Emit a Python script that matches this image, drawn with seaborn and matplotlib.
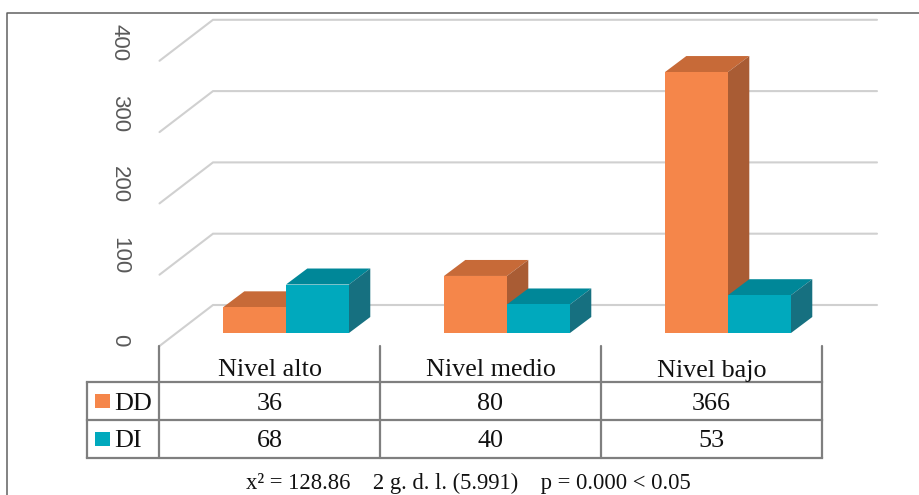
import matplotlib
matplotlib.use("Agg")
import matplotlib.pyplot as plt
from matplotlib.patches import Polygon, Rectangle
import pandas as pd
import seaborn as sns

categories = ["Nivel alto", "Nivel medio", "Nivel bajo"]
dd_values = [36, 80, 366]
di_values = [68, 40, 53]
series_names = ["DD", "DI"]
y_ticks = [0, 100, 200, 300, 400]
note = "x² = 128.86    2 g. d. l. (5.991)    p = 0.000 < 0.05"

front = {"DD": "#F5864A", "DI": "#00A9BD"}
top = {"DD": "#C76A38", "DI": "#008798"}
side = {"DD": "#A95C34", "DI": "#167080"}
GRID = "#D0D0D0"
TABLE = "#7F7F7F"
W, H = 920, 495

sns.set_theme(style="white")
plt.rcParams["font.family"] = ["Liberation Serif", "DejaVu Serif"]
fig = plt.figure(figsize=(W / 100, H / 100), dpi=100, facecolor="white")

# pixel geometry of the front plane of the bars
cat_w = 221.0
px_per_unit = 0.713
base_y = 333.0
left_px = 159.5 + 16
top_y = base_y - 400 * px_per_unit
ax = fig.add_axes([left_px / W, 1 - base_y / H, 3 * cat_w / W, (base_y - top_y) / H])

df = pd.DataFrame({
    "cat": categories * 2,
    "serie": ["DD"] * 3 + ["DI"] * 3,
    "valor": dd_values + di_values,
})
sns.barplot(data=df, x="cat", y="valor", hue="serie", order=categories,
            hue_order=series_names, palette=front, width=0.57, gap=0,
            saturation=1, legend=False, ax=ax, zorder=3, linewidth=0)
ax.set_xlim(-0.5, 2.5)
ax.set_ylim(0, 400)
ax.axis("off")

# depth of a bar, in data units
dx = 21.3 / cat_w
dy = 16.0 / px_per_unit
for name, cont in zip(series_names, ax.containers):
    z = 2 if name == "DD" else 2.5
    for b in cont:
        x0, x1, h = b.get_x(), b.get_x() + b.get_width(), b.get_height()
        ax.add_patch(Polygon([(x0, h), (x1, h), (x1 + dx, h + dy), (x0 + dx, h + dy)],
                             fc=top[name], ec="none", zorder=z, clip_on=False))
        ax.add_patch(Polygon([(x1, 0), (x1 + dx, dy), (x1 + dx, h + dy), (x1, h)],
                             fc=side[name], ec="none", zorder=z, clip_on=False))

# floor and wall grid lines
wall_x0 = -0.5 - 16 / cat_w
wall_x1 = wall_x0 + 53.5 / cat_w
wall_x2 = wall_x0 + (877 - 159.5) / cat_w
front_off = -13 / px_per_unit
back_off = 28 / px_per_unit
for v in y_ticks:
    ax.plot([wall_x0, wall_x1, wall_x2],
            [v + front_off, v + back_off, v + back_off],
            color=GRID, lw=1.5, zorder=1, clip_on=False, solid_joinstyle="miter")

# overlay in pixel coordinates: frame, table, labels
ov = fig.add_axes([0, 0, 1, 1], facecolor="none")
ov.set_xlim(0, W)
ov.set_ylim(H, 0)
ov.axis("off")

ov.plot([7.5, 7.5, W], [H, 13, 13], color="#606060", lw=1.1)

col_x = [159.5, 380, 601, 822]
row_y = [382, 420, 458]
LW = 1.6
for x in col_x:
    ov.plot([x, x], [346, row_y[-1]], color=TABLE, lw=LW)
ov.plot([87, 87], [row_y[0], row_y[-1]], color=TABLE, lw=LW)
for y in row_y:
    ov.plot([87, col_x[-1]], [y, y], color=TABLE, lw=LW, solid_capstyle="projecting")

FS = 18.8
for i, c in enumerate(categories):
    cx = (col_x[i] + col_x[i + 1]) / 2
    ov.text(cx, 376.5, c, ha="center", va="baseline", fontsize=FS, color="#111111")
    ov.text(cx, 410, str(dd_values[i]), ha="center", va="baseline", fontsize=FS, color="#111111")
    ov.text(cx, 447, str(di_values[i]), ha="center", va="baseline", fontsize=FS, color="#111111")

for name, y0, base in zip(series_names, row_y[:2], (410, 447)):
    ov.add_patch(Rectangle((95.5, y0 + 11.5), 15, 14, fc=front[name], ec="none"))
    ov.text(114, base, name, ha="left", va="baseline", fontsize=FS, color="#111111")

ov.text(468.5, 489.5, note, ha="center", va="baseline", fontsize=16.3, color="#111111")

# value-axis labels, turned as in the 3-D view; each ends at its grid corner
for v in y_ticks:
    ov.text(119.5, 346 - v * px_per_unit, str(v), rotation=-90, ha="center", va="bottom",
            fontsize=16, color="#595959", family=["Liberation Sans", "DejaVu Sans"])

fig.savefig("out.png", dpi=100, facecolor="white")
